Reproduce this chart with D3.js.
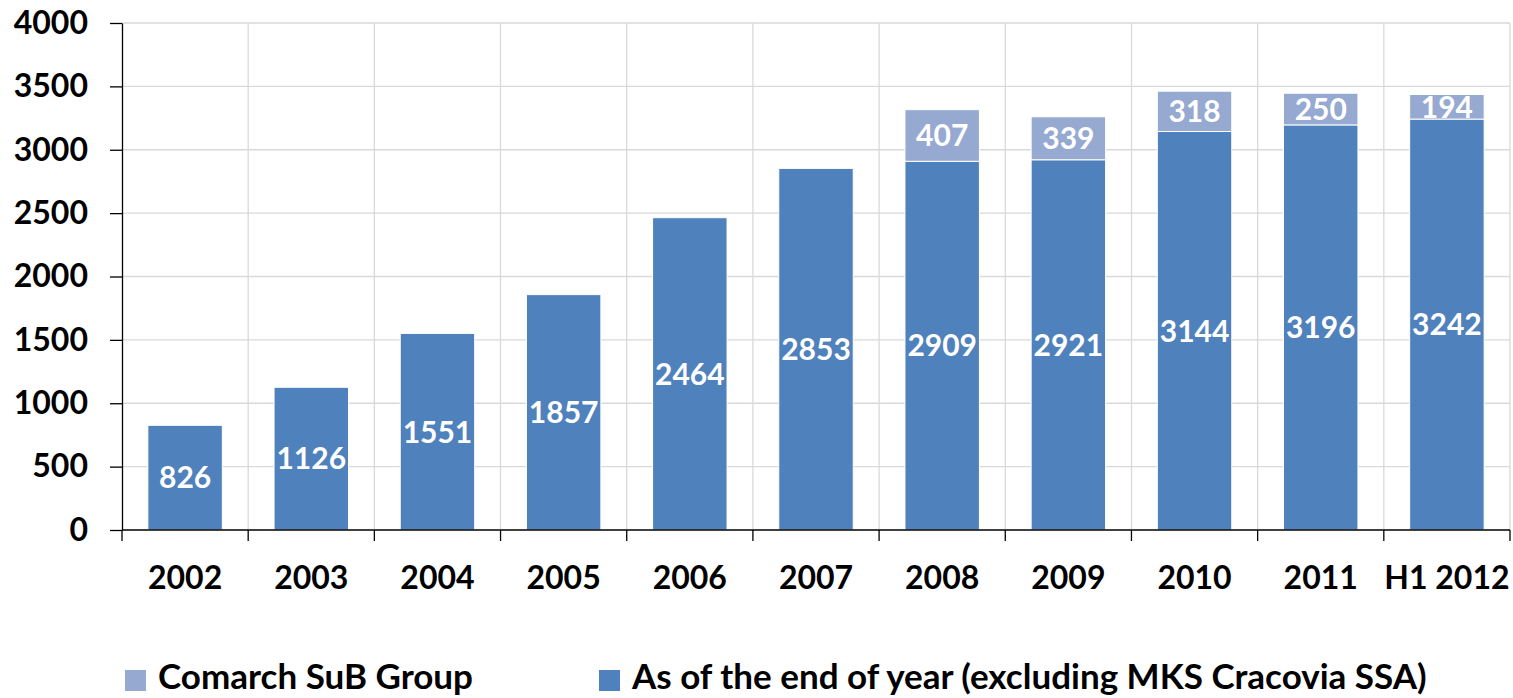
<!DOCTYPE html>
<html>
<head>
<meta charset="utf-8">
<script src="https://cdn.jsdelivr.net/npm/d3@7"></script>
<style>
  body { margin: 0; background: #fff; }
  svg { display: block; }
  text { font-family: Lato, "Open Sans", sans-serif; font-weight: bold; }
</style>
</head>
<body>
<svg id="chart" width="1513" height="698"></svg>
<script>
// Data
var categories = ["2002", "2003", "2004", "2005", "2006", "2007", "2008", "2009", "2010", "2011", "H1 2012"];
var endOfYear = [826, 1126, 1551, 1857, 2464, 2853, 2909, 2921, 3144, 3196, 3242];
var subGroup = [0, 0, 0, 0, 0, 0, 407, 339, 318, 250, 194];
var yTicks = [0, 500, 1000, 1500, 2000, 2500, 3000, 3500, 4000];
var seriesNames = ["Comarch SuB Group", "As of the end of year (excluding MKS Cracovia SSA)"];
var colors = { base: "#4f81bd", sub: "#95a9d1" };

var svg = d3.select("#chart");
var plotLeft = 122, plotRight = 1510, plotTop = 23, plotBottom = 530;

//Scales
var x = d3.scaleBand().domain(categories).range([plotLeft, plotRight]).paddingInner(0.41).paddingOuter(0.205);
var y = d3.scaleLinear().domain([0, 4000]).range([plotBottom, plotTop]);

var rows = categories.map(function (c, i) {
  return { cat: c, base: endOfYear[i], sub: subGroup[i] };
});

//Grid lines
var step = x.step();
var bounds = d3.range(categories.length + 1).map(function (i) { return plotLeft + i * step; });

svg.append("g").selectAll("line")
  .data(yTicks.filter(function (t) { return t > 0; }))
  .enter().append("line")
  .attr("x1", plotLeft).attr("x2", plotRight)
  .attr("y1", function (d) { return y(d); }).attr("y2", function (d) { return y(d); })
  .attr("stroke", "#d9d9d9").attr("stroke-width", 1.3);

svg.append("g").selectAll("line")
  .data(bounds.slice(1))
  .enter().append("line")
  .attr("x1", function (d) { return d; }).attr("x2", function (d) { return d; })
  .attr("y1", plotTop).attr("y2", plotBottom)
  .attr("stroke", "#d9d9d9").attr("stroke-width", 1.3);

//Bars
var bars = svg.append("g");
bars.selectAll("rect.base")
  .data(rows).enter().append("rect")
  .attr("class", "base")
  .attr("x", function (d) { return x(d.cat); })
  .attr("width", x.bandwidth())
  .attr("y", function (d) { return y(d.base); })
  .attr("height", function (d) { return y(0) - y(d.base); })
  .attr("fill", colors.base)
  .attr("stroke", "#fff").attr("stroke-width", 1);

bars.selectAll("rect.sub")
  .data(rows.filter(function (d) { return d.sub > 0; })).enter().append("rect")
  .attr("class", "sub")
  .attr("x", function (d) { return x(d.cat); })
  .attr("width", x.bandwidth())
  .attr("y", function (d) { return y(d.base + d.sub); })
  .attr("height", function (d) { return y(d.base) - y(d.base + d.sub); })
  .attr("fill", colors.sub)
  .attr("stroke", "#fff").attr("stroke-width", 1);

//Labels
svg.append("g").selectAll("text")
  .data(rows).enter().append("text")
  .attr("x", function (d) { return x(d.cat) + x.bandwidth() / 2; })
  .attr("y", function (d) { return y(d.base / 2); })
  .attr("dy", "0.36em")
  .attr("text-anchor", "middle")
  .attr("fill", "#fff")
  .style("font-size", "30px")
  .text(function (d) { return d.base; });

svg.append("g").selectAll("text")
  .data(rows.filter(function (d) { return d.sub > 0; })).enter().append("text")
  .attr("x", function (d) { return x(d.cat) + x.bandwidth() / 2; })
  .attr("y", function (d) { return y(d.base + d.sub / 2); })
  .attr("dy", "0.36em")
  .attr("text-anchor", "middle")
  .attr("fill", "#fff")
  .style("font-size", "30px")
  .text(function (d) { return d.sub; });

//Axes
var yAxis = svg.append("g")
  .attr("transform", "translate(" + plotLeft + ",0)")
  .call(d3.axisLeft(y).tickValues(yTicks).tickSize(12).tickSizeOuter(0).tickPadding(22).tickFormat(d3.format("d")));
yAxis.select(".domain").attr("stroke", "#000").attr("stroke-width", 1.3);
yAxis.selectAll(".tick line").attr("stroke", "#000").attr("stroke-width", 1.3);
yAxis.selectAll("text").style("font-size", "32px").attr("fill", "#000").attr("font-family", null);

var xAxis = svg.append("g").attr("transform", "translate(0," + plotBottom + ")");
xAxis.append("line").attr("x1", plotLeft).attr("x2", plotRight).attr("stroke", "#000").attr("stroke-width", 1.3);
xAxis.selectAll("line.tick")
  .data(bounds).enter().append("line")
  .attr("class", "tick")
  .attr("x1", function (d) { return d; }).attr("x2", function (d) { return d; })
  .attr("y1", 0).attr("y2", 11)
  .attr("stroke", "#000").attr("stroke-width", 1.3);
xAxis.selectAll("text")
  .data(categories).enter().append("text")
  .attr("x", function (d) { return x(d) + x.bandwidth() / 2; })
  .attr("y", 59)
  .attr("text-anchor", "middle")
  .attr("fill", "#000")
  .style("font-size", "32px")
  .text(function (d) { return d; });

//Legend
var legend = svg.append("g").attr("transform", "translate(0,678)");
var legendItems = [
  { name: seriesNames[0], color: colors.sub, x: 125 },
  { name: seriesNames[1], color: colors.base, x: 599 }
];
legend.selectAll("rect").data(legendItems).enter().append("rect")
  .attr("x", function (d) { return d.x; }).attr("y", -8)
  .attr("width", 21).attr("height", 21)
  .attr("fill", function (d) { return d.color; });
legend.selectAll("text").data(legendItems).enter().append("text")
  .attr("x", function (d) { return d.x + 33; }).attr("y", 0)
  .attr("dy", "0.32em")
  .attr("fill", "#000")
  .style("font-size", "35px")
  .text(function (d) { return d.name; });
</script>
</body>
</html>
